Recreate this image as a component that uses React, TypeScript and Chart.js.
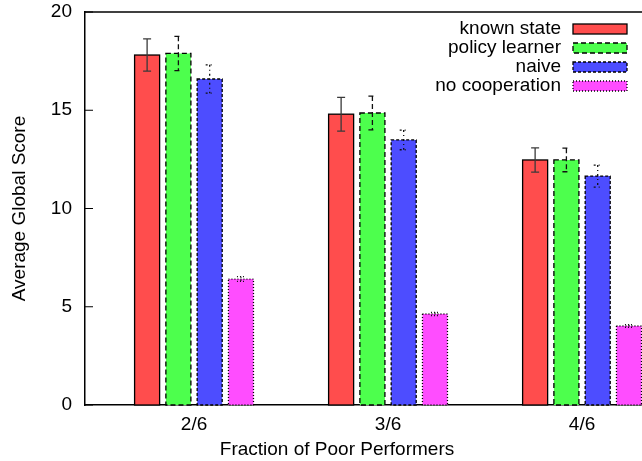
import React, { useEffect, useRef } from "react";
import { Chart, registerables } from "chart.js";

Chart.register(...registerables);

const categories = ["2/6", "3/6", "4/6"];
const seriesNames = ["known state", "policy learner", "naive", "no cooperation"];
const knownState = [17.81, 14.8, 12.47];
const knownStateErr = [0.82, 0.86, 0.62];
const policyLearner = [17.89, 14.86, 12.47];
const policyLearnerErr = [0.87, 0.86, 0.6];
const naive = [16.59, 13.49, 11.65];
const naiveErr = [0.72, 0.5, 0.56];
const noCooperation = [6.41, 4.63, 4.02];
const noCooperationErr = [0.12, 0.08, 0.07];
const yTicks = [0, 5, 10, 15, 20];

const seriesValues = [knownState, policyLearner, naive, noCooperation];
const seriesErrors = [knownStateErr, policyLearnerErr, naiveErr, noCooperationErr];

const FONT = "'Liberation Sans', Arial, Helvetica, sans-serif";
const FONT_SIZE = 19;

const looks = [
  { fill: "rgb(255,77,77)", dash: [] as number[], err: "#3a3a3a", errDash: [] as number[] },
  { fill: "rgb(77,255,77)", dash: [5, 3], err: "#111", errDash: [5, 3] },
  { fill: "rgb(77,77,255)", dash: [3, 2], err: "#111", errDash: [2, 3, 1, 3] },
  { fill: "rgb(255,77,255)", dash: [1, 2], err: "#111", errDash: [1, 2] },
];

const decorPlugin = {
  id: "decor",
  afterDatasetsDraw(chart: any) {
    const ctx = chart.ctx;
    const yScale = chart.scales.y;
    const area = chart.chartArea;
    ctx.save();
    seriesValues.forEach((vals, d) => {
      const meta = chart.getDatasetMeta(d);
      const look = looks[d];
      meta.data.forEach((el: any, i: number) => {
        const w = el.width;
        const left = el.x - w / 2;
        const top = el.y;
        const base = el.base;
        ctx.strokeStyle = "#000";
        ctx.lineWidth = 1.3;
        ctx.setLineDash(look.dash);
        ctx.strokeRect(left, top, w, base - top);
        const v = vals[i];
        const e = seriesErrors[d][i];
        const yHi = yScale.getPixelForValue(v + e);
        const yLo = yScale.getPixelForValue(v - e);
        ctx.strokeStyle = look.err;
        ctx.lineWidth = 1.3;
        ctx.setLineDash(look.errDash);
        ctx.beginPath();
        ctx.moveTo(el.x, yHi);
        ctx.lineTo(el.x, yLo);
        ctx.moveTo(el.x - 4, yHi);
        ctx.lineTo(el.x + 4, yHi);
        ctx.moveTo(el.x - 4, yLo);
        ctx.lineTo(el.x + 4, yLo);
        ctx.stroke();
      });
    });
    ctx.setLineDash([]);
    ctx.strokeStyle = "#000";
    ctx.lineWidth = 1.5;
    ctx.beginPath();
    ctx.moveTo(area.left, area.top);
    ctx.lineTo(area.right, area.top);
    ctx.stroke();
    ctx.lineWidth = 1;
    ctx.beginPath();
    yTicks.forEach((t) => {
      const py = yScale.getPixelForValue(t);
      ctx.moveTo(area.left, py);
      ctx.lineTo(area.left + 8, py);
    });
    ctx.stroke();
    ctx.restore();
  },
  afterDraw(chart: any) {
    const ctx = chart.ctx;
    const area = chart.chartArea;
    ctx.save();
    ctx.font = `${FONT_SIZE}px ${FONT}`;
    ctx.fillStyle = "#000";
    const rowY0 = area.top + 17;
    const rowGap = 19;
    seriesNames.forEach((name, d) => {
      const cy = rowY0 + d * rowGap;
      ctx.textAlign = "right";
      ctx.textBaseline = "middle";
      ctx.fillStyle = "#000";
      ctx.fillText(name, 561, cy);
      ctx.fillStyle = looks[d].fill;
      ctx.fillRect(573, cy - 5, 54, 10);
      ctx.strokeStyle = "#000";
      ctx.lineWidth = 1.3;
      ctx.setLineDash(looks[d].dash);
      ctx.strokeRect(573, cy - 5, 54, 10);
      ctx.setLineDash([]);
    });
    ctx.fillStyle = "#000";
    ctx.textAlign = "center";
    ctx.textBaseline = "middle";
    ctx.fillText("Fraction of Poor Performers", 337, 450);
    ctx.translate(20, (area.top + area.bottom) / 2);
    ctx.rotate(-Math.PI / 2);
    ctx.fillText("Average Global Score", 0, 0);
    ctx.restore();
  },
};

export default function App() {
  const canvasRef = useRef<HTMLCanvasElement | null>(null);

  useEffect(() => {
    document.body.style.margin = "0";
    const canvas = canvasRef.current;
    if (!canvas) return;
    Chart.defaults.font.family = FONT;
    const datasets = seriesValues.map((vals, d) => ({
      label: seriesNames[d],
      data: vals.map((v, i) => ({ x: i + 1, y: v })),
      backgroundColor: looks[d].fill,
      borderWidth: 0,
      categoryPercentage: 0.645,
      barPercentage: 0.8,
    }));
    const chart = new Chart(canvas, {
      type: "bar",
      data: { datasets },
      plugins: [decorPlugin],
      options: {
        animation: false,
        responsive: false,
        maintainAspectRatio: false,
        devicePixelRatio: 1,
        layout: { padding: { top: 12, right: 0, left: 0, bottom: 0 } },
        plugins: { legend: { display: false }, tooltip: { enabled: false } },
        scales: {
          x: {
            type: "linear",
            min: 0.438,
            max: 3.309,
            offset: false,
            grid: { display: false, drawOnChartArea: false, drawTicks: false, offset: false },
            border: { display: true, color: "#000", width: 1.5 },
            afterBuildTicks: (scale: any) => {
              scale.ticks = categories.map((_, i) => ({ value: i + 1 }));
            },
            afterFit: (scale: any) => {
              scale.height = 56;
              scale.paddingLeft = 0;
              scale.paddingRight = 0;
            },
            ticks: {
              autoSkip: false,
              maxRotation: 0,
              padding: 8,
              color: "#000",
              font: { size: FONT_SIZE, family: FONT },
              callback: (v: any) => categories[Math.round(v) - 1] ?? "",
            },
          },
          y: {
            min: 0,
            max: 20,
            grid: { display: false, drawOnChartArea: false, drawTicks: false },
            border: { display: true, color: "#000", width: 1.5 },
            afterBuildTicks: (scale: any) => {
              scale.ticks = yTicks.map((v) => ({ value: v }));
            },
            afterFit: (scale: any) => {
              scale.width = 85;
              scale.paddingTop = 0;
              scale.paddingBottom = 0;
            },
            ticks: {
              padding: 13,
              color: "#000",
              font: { size: FONT_SIZE, family: FONT },
              callback: (v: any) => String(v),
            },
          },
        },
      } as any,
    });
    return () => chart.destroy();
  }, []);

  return (
    <div style={{ width: 642, height: 461 }}>
      <canvas ref={canvasRef} width={642} height={461} style={{ display: "block" }} />
    </div>
  );
}
